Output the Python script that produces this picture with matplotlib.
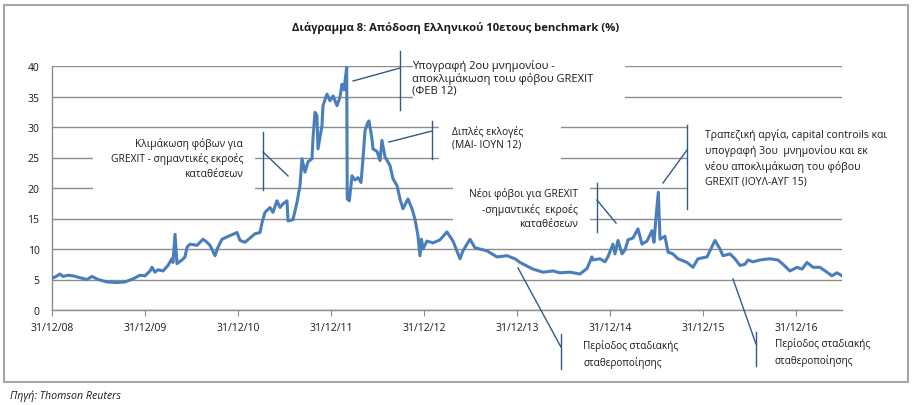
import matplotlib
matplotlib.use("Agg")
import matplotlib.pyplot as plt
from matplotlib.patches import Rectangle

plt.rcParams["font.family"] = ["Open Sans", "DejaVu Sans"]

# ─── data ─────────────────────────────────────────────────────────────────────
# time as decimal year, 2009.0 == 31/12/08
years = [
    2009.000, 2009.032, 2009.086, 2009.118, 2009.172, 2009.226, 2009.301, 2009.376,
    2009.430, 2009.495, 2009.591, 2009.699, 2009.785, 2009.871, 2009.946, 2010.000,
    2010.054, 2010.075, 2010.108, 2010.140, 2010.194, 2010.247, 2010.290, 2010.301,
    2010.323, 2010.344, 2010.398, 2010.430, 2010.452, 2010.484, 2010.559, 2010.624,
    2010.667, 2010.699, 2010.753, 2010.785, 2010.828, 2010.914, 2010.989, 2011.022,
    2011.075, 2011.129, 2011.183, 2011.237, 2011.258, 2011.290, 2011.344, 2011.376,
    2011.419, 2011.452, 2011.484, 2011.527, 2011.538, 2011.591, 2011.634, 2011.667,
    2011.688, 2011.720, 2011.753, 2011.796, 2011.806, 2011.828, 2011.849, 2011.860,
    2011.903, 2011.914, 2011.957, 2011.989, 2012.022, 2012.065, 2012.097, 2012.118,
    2012.140, 2012.169, 2012.175, 2012.197, 2012.226, 2012.258, 2012.290, 2012.323,
    2012.344, 2012.366, 2012.398, 2012.409, 2012.441, 2012.452, 2012.495, 2012.527,
    2012.548, 2012.581, 2012.634, 2012.667, 2012.710, 2012.742, 2012.774, 2012.828,
    2012.871, 2012.903, 2012.935, 2012.957, 2012.973, 2012.989, 2013.032, 2013.097,
    2013.172, 2013.247, 2013.312, 2013.387, 2013.419, 2013.495, 2013.548, 2013.677,
    2013.785, 2013.892, 2013.978, 2014.032, 2014.172, 2014.280, 2014.387, 2014.462,
    2014.570, 2014.677, 2014.753, 2014.806, 2014.817, 2014.892, 2014.946, 2014.978,
    2015.032, 2015.054, 2015.086, 2015.129, 2015.161, 2015.194, 2015.247, 2015.301,
    2015.344, 2015.398, 2015.452, 2015.473, 2015.495, 2015.520, 2015.538, 2015.591,
    2015.624, 2015.677, 2015.731, 2015.828, 2015.892, 2015.946, 2016.043, 2016.129,
    2016.183, 2016.215, 2016.290, 2016.344, 2016.398, 2016.452, 2016.484, 2016.538,
    2016.613, 2016.720, 2016.806, 2016.860, 2016.935, 2017.011, 2017.065, 2017.118,
    2017.183, 2017.258, 2017.333, 2017.387, 2017.441, 2017.495,
]
yields = [
    5.2, 5.4, 5.9, 5.5, 5.7, 5.6, 5.3, 5.0,
    5.5, 5.0, 4.6, 4.5, 4.6, 5.1, 5.7, 5.6,
    6.4, 7.0, 6.2, 6.6, 6.4, 7.3, 8.4, 7.8,
    12.4, 7.6, 8.2, 8.7, 10.3, 10.8, 10.6, 11.6,
    11.1, 10.6, 8.9, 10.3, 11.6, 12.2, 12.7, 11.4,
    11.1, 11.8, 12.5, 12.7, 14.3, 16.0, 16.8, 16.0,
    17.9, 16.8, 17.4, 17.9, 14.6, 14.8, 17.6, 20.4,
    24.8, 22.6, 24.3, 24.8, 28.0, 32.4, 31.9, 26.4,
    30.2, 33.5, 35.4, 34.3, 35.1, 33.5, 34.9, 37.0,
    36.1, 39.8, 18.2, 17.9, 22.0, 21.3, 21.7, 20.9,
    24.8, 29.4, 30.8, 31.0, 28.0, 26.4, 26.0, 24.5,
    27.8, 25.1, 23.7, 21.5, 20.4, 18.2, 16.6, 18.2,
    16.6, 14.9, 12.2, 8.9, 11.6, 10.0, 11.3, 11.0,
    11.5, 12.8, 11.3, 8.4, 9.7, 11.6, 10.2, 9.7,
    8.7, 8.9, 8.4, 7.8, 6.7, 6.2, 6.4, 6.1,
    6.2, 5.9, 6.8, 8.7, 8.2, 8.4, 7.9, 8.7,
    10.8, 9.2, 11.4, 9.2, 9.8, 11.5, 11.8, 13.3,
    10.8, 11.3, 13.0, 11.1, 15.2, 19.3, 11.6, 12.1,
    9.5, 9.2, 8.4, 7.8, 7.0, 8.4, 8.7, 11.4,
    10.0, 8.9, 9.2, 8.4, 7.3, 7.5, 8.2, 7.9,
    8.2, 8.4, 8.2, 7.5, 6.4, 7.0, 6.7, 7.8,
    7.0, 7.0, 6.2, 5.6, 6.1, 5.6,
]
tick_years = [2009, 2010, 2011, 2012, 2013, 2014, 2015, 2016, 2017]
tick_labels = ["31/12/08", "31/12/09", "31/12/10", "31/12/11", "31/12/12",
               "31/12/13", "31/12/14", "31/12/15", "31/12/16"]
y_ticks = [0, 5, 10, 15, 20, 25, 30, 35, 40]

TITLE = "Διάγραμμα 8: Απόδοση Ελληνικού 10ετους benchmark (%)"
SOURCE = "Πηγή: Thomson Reuters"

LINE_BLUE = "#4a7ebb"
LEADER = "#2f5a8a"
GRID = "#8c8c8c"
INK = "#1a1a1a"

fig = plt.figure(figsize=(9.15, 4.06), dpi=100)
ax = fig.add_axes([52/915, 1-311/406, 790/915, 244/406])
ax.set_axisbelow(True)

ax.plot(years, yields, color=LINE_BLUE, lw=2.2, zorder=3, solid_joinstyle="round")

ax.set_xlim(2009, 2017.495)
ax.set_ylim(0, 40)
ax.set_xticks(tick_years)
ax.set_xticklabels(tick_labels, fontsize=7.5, color=INK)
ax.set_yticks(y_ticks)
ax.set_yticklabels([str(v) for v in y_ticks], fontsize=7.5, color=INK)
ax.tick_params(axis="x", length=4, color=GRID, pad=5, direction="out")
ax.tick_params(axis="y", length=0, pad=9)
ax.grid(axis="y", color=GRID, lw=1.0)
for s in ["top", "right"]:
    ax.spines[s].set_visible(False)
for s in ["left", "bottom"]:
    ax.spines[s].set_color(GRID)
    ax.spines[s].set_linewidth(1.0)

# white masks where the callout texts break the gridlines
masks = [
    (2012.882, 34.3, 2.28, 7.0),   # Υπογραφή 2ου μνημονίου
    (2013.161, 23.8, 1.31, 7.5),   # Διπλές εκλογές
    (2015.839, 18.2, 1.75, 13.1),  # Τραπεζική αργία
    (2009.441, 18.9, 1.74, 7.5),   # Κλιμάκωση φόβων
    (2013.312, 13.6, 1.47, 7.4),   # Νέοι φόβοι
]
for x0, y0, w, h in masks:
    ax.add_patch(Rectangle((x0, y0), w, h, fc="white", ec="none", zorder=1, clip_on=False))

# leader lines
leaders = [
    ((2012.742, 2012.742), (42.46, 32.79)),
    ((2012.237, 2012.742), (37.54, 39.67)),
    ((2013.086, 2013.086), (30.98, 24.75)),
    ((2012.624, 2013.086), (27.54, 29.34)),
    ((2015.828, 2015.828), (30.33, 16.56)),
    ((2015.570, 2015.828), (20.82, 26.23)),
    ((2011.269, 2011.269), (29.18, 19.67)),
    ((2011.269, 2011.538), (25.90, 21.97)),
    ((2014.860, 2014.860), (20.82, 12.79)),
    ((2014.860, 2015.065), (18.03, 14.26)),
    ((2014.473, 2014.473), (-3.93, -9.67)),
    ((2014.011, 2014.473), (6.89, -6.07)),
    ((2016.570, 2016.570), (-3.61, -9.18)),
    ((2016.323, 2016.570), (5.08, -5.57)),
]
for xs, ys in leaders:
    ax.plot(xs, ys, color=LEADER, lw=1.0, zorder=4, clip_on=False)

txt = dict(color=INK, va="top", zorder=5, clip_on=False)
ax.text(2012.871, 41.1, "Υπογραφή 2ου μνημονίου -\nαποκλιμάκωση τοιυ φόβου GREXIT\n(ΦΕΒ 12)",
        ha="left", fontsize=8.0, linespacing=1.1, **txt)
ax.text(2013.301, 30.4, "Διπλές εκλογές\n(ΜΑΙ- ΙΟΥΝ 12)", ha="left", fontsize=7.4,
        linespacing=1.3, **txt)
ax.text(2016.022, 29.8, "Τραπεζική αργία, capital controils και\nυπογραφή 3ου  μνημονίου και εκ\n"
        "νέου αποκλιμάκωση του φόβου\nGREXIT (ΙΟΥΛ-ΑΥΓ 15)", ha="left", fontsize=7.5,
        linespacing=1.45, **txt)
ax.text(2011.054, 28.4, "Κλιμάκωση φόβων για\nGREXIT - σημαντικές εκροές\nκαταθέσεων",
        ha="right", multialignment="right", fontsize=7.4, linespacing=1.4, **txt)
ax.text(2014.656, 20.1, "Νέοι φόβοι για GREXIT\n-σημαντικές  εκροές\nκαταθέσεων",
        ha="right", multialignment="right", fontsize=7.4, linespacing=1.4, **txt)
ax.text(2014.710, -4.7, "Περίοδος σταδιακής\nσταθεροποίησης", ha="left", fontsize=7.2,
        linespacing=1.55, **txt)
ax.text(2016.774, -4.4, "Περίοδος σταδιακής\nσταθεροποίησης", ha="left", fontsize=7.2,
        linespacing=1.55, **txt)

fig.text(456/915, 1-28/406, TITLE, ha="center", va="center", fontsize=8.15,
         fontweight="bold", color=INK)
fig.text(10/915, 1-396/406, SOURCE, ha="left", va="center", fontsize=7.7,
         style="italic", color=INK)

# outer frame
fig.add_artist(Rectangle((4/915, 1-383/406), 904/915, 377/406, transform=fig.transFigure,
                         fill=False, ec="#a6a6a6", lw=1.5))

fig.savefig("out.png", dpi=100)
